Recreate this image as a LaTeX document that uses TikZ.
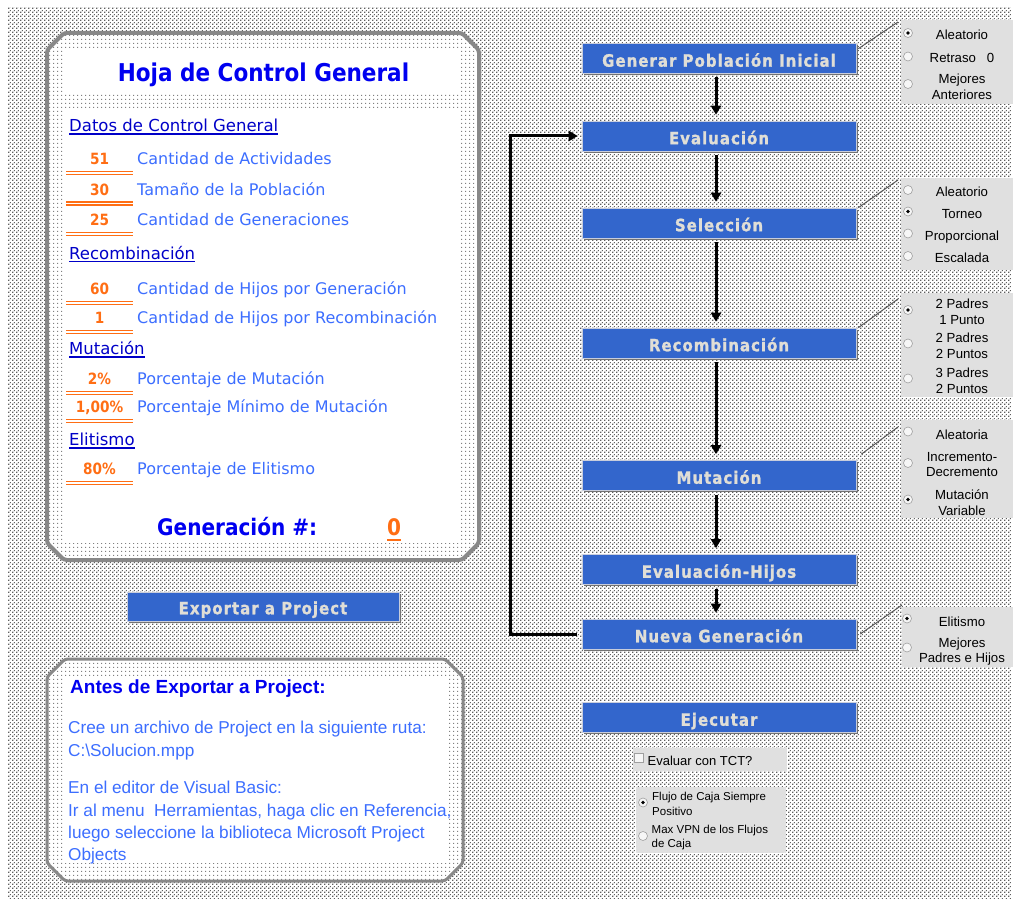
\documentclass[tikz,border=0pt]{standalone}
\usepackage{fontspec}
\setmainfont{Liberation Sans}
\newfontfamily\dvs{DejaVu Sans}
\newfontfamily\tah{DejaVu Sans}[FakeStretch=0.88]
\newfontfamily\tahbox{DejaVu Sans}[FakeStretch=0.88,LetterSpace=6,FakeBold=1.2]
\usetikzlibrary{arrows.meta,patterns,shadows}

\definecolor{boxblue}{RGB}{51,102,204}
\definecolor{boxedge}{RGB}{200,205,220}
\definecolor{boxtxt}{RGB}{224,222,214}
\definecolor{ttlblue}{RGB}{0,0,240}
\definecolor{hdrblue}{RGB}{0,0,200}
\definecolor{lblblue}{RGB}{60,110,255}
\definecolor{numorange}{RGB}{255,110,20}
\definecolor{framegray}{RGB}{136,136,136}
\definecolor{optgray}{RGB}{224,224,224}
\definecolor{dotgray}{RGB}{95,95,95}

% dense dither of the sheet background
\pgfdeclarepatternformonly{bgdots}{\pgfqpoint{0pt}{0pt}}{\pgfqpoint{4pt}{4pt}}{\pgfqpoint{4pt}{4pt}}{%
  \pgfpathrectangle{\pgfqpoint{0.3pt}{0.3pt}}{\pgfqpoint{1.4pt}{1.4pt}}%
  \pgfpathrectangle{\pgfqpoint{2.3pt}{2.3pt}}{\pgfqpoint{1.4pt}{1.4pt}}%
  \pgfusepath{fill}}
% sparse dots inside the framed panels
\pgfdeclarepatternformonly{paneldots}{\pgfqpoint{0pt}{0pt}}{\pgfqpoint{4pt}{4pt}}{\pgfqpoint{4pt}{4pt}}{%
  \pgfpathrectangle{\pgfqpoint{1.5pt}{1.5pt}}{\pgfqpoint{1.1pt}{1.1pt}}%
  \pgfusepath{fill}}

\begin{document}
\begin{tikzpicture}[x=1pt,y=-1pt,
  fbox/.style={rectangle, fill=boxblue, draw=boxedge, line width=0.6pt,
    minimum width=274pt, minimum height=30pt, inner sep=0pt, text=boxtxt,
    text height=16.5pt, text depth=0pt,
    font=\tahbox\bfseries\fontsize{17}{20}\selectfont,
    drop shadow={shadow xshift=1.6pt, shadow yshift=-1.6pt, fill=black!55, opacity=1}},
  arr/.style={line width=3pt, -{Triangle[width=10pt,length=9pt]}, shorten <=4pt, shorten >=6pt},
  conn/.style={draw=black!65, line width=1pt},
  optpanel/.style={rectangle, fill=optgray, draw=none, inner sep=0pt, anchor=north west},
  opt/.style={font=\fontsize{13.2}{15}\selectfont, anchor=base, inner sep=0pt, text=black},
  optsm/.style={font=\fontsize{11.5}{13}\selectfont, anchor=base west, inner sep=0pt, text=black},
  radio/.style={circle, minimum size=9pt, inner sep=0pt, fill=white!93!gray, draw=gray!75, line width=0.6pt},
  hdr/.style={font=\dvs\fontsize{16.5}{20}\selectfont, text=hdrblue, anchor=base west, inner sep=0pt},
  lbl/.style={font=\dvs\fontsize{16}{19}\selectfont, text=lblblue, anchor=base west, inner sep=0pt},
  num/.style={font=\tah\bfseries\fontsize{15.5}{18}\selectfont, text=numorange, anchor=base, inner sep=0pt},
  numline/.style={draw=numorange, line width=1.4pt},
  body/.style={font=\fontsize{17.2}{20}\selectfont, text=lblblue, anchor=base west, inner sep=0pt},
  panelframe/.style={draw=framegray, line width=4pt, rounded corners=3pt}
]
\useasboundingbox (0,0) rectangle (1013,901);
\fill[white] (0,0) rectangle (1013,901);
\fill[pattern=bgdots, pattern color=dotgray] (8,8) rectangle (1011,898);

% ---------- control sheet panel ----------
\fill[white] (64,33) -- (462,33) -- (479,50) -- (479,543) -- (462,560) -- (64,560) -- (47,543) -- (47,50) -- cycle;
\fill[pattern=paneldots, pattern color=gray] (64,33) -- (462,33) -- (479,50) -- (479,543) -- (462,560) -- (64,560) -- (47,543) -- (47,50) -- cycle;
\fill[white] (64,50) rectangle (461,92);
\fill[white] (64,109) rectangle (461,543);
\draw[panelframe] (64,33) -- (462,33) -- (479,50) -- (479,543) -- (462,560) -- (64,560) -- (47,543) -- (47,50) -- cycle;

\node[font=\tah\bfseries\fontsize{24.5}{28}\selectfont, text=ttlblue, anchor=base, inner sep=0pt] (title) at (263.5,82) {Hoja de Control General};

\node[hdr] (h1) at (69,132) {Datos de Control General};
\node[hdr] (h2) at (69,259.5) {Recombinación};
\node[hdr] (h3) at (69,355) {Mutación};
\node[hdr] (h4) at (69,446) {Elitismo};
\foreach \h in {h1,h2,h3,h4}
  \draw[hdrblue, line width=1.3pt] ([yshift=-2pt]\h.base west) -- ([yshift=-2pt]\h.base east);

\foreach \i/\v/\y/\t in {1/51/165/Cantidad de Actividades,
                         2/30/195.5/Tamaño de la Población,
                         3/25/226/Cantidad de Generaciones,
                         4/60/295/Cantidad de Hijos por Generación,
                         5/1/324/Cantidad de Hijos por Recombinación,
                         6/2\%/385/Porcentaje de Mutación,
                         7/{1,00\%}/413/Porcentaje Mínimo de Mutación,
                         8/80\%/475/Porcentaje de Elitismo}{
  \node[num] (n\i) at (99.5,\y) {\v};
  \node[lbl] (l\i) at (137,\y) {\t};
  \draw[numline] ([xshift=-33.5pt,yshift=-6.5pt]n\i.base) -- ([xshift=33.5pt,yshift=-6.5pt]n\i.base);
  \draw[numline] ([xshift=-33.5pt,yshift=-9.5pt]n\i.base) -- ([xshift=33.5pt,yshift=-9.5pt]n\i.base);
}

\node[font=\tah\bfseries\fontsize{22.8}{26}\selectfont, text=ttlblue, anchor=base west, inner sep=0pt] (gen) at (157,535) {Generación \#:};
\node[font=\tah\bfseries\fontsize{22.8}{26}\selectfont, text=numorange, anchor=base, inner sep=0pt] (genval) at (394,535) {0};
\draw[numorange, line width=2pt] ([xshift=-7pt,yshift=-5pt]genval.base) -- ([xshift=7pt,yshift=-5pt]genval.base);

% ---------- export button and notes ----------
\node[fbox, minimum width=272pt, minimum height=29pt, text height=15.5pt] (export) at (263,606.5) {Exportar a Project};

\fill[white] (65,659) -- (445,659) -- (463,677) -- (463,863) -- (445,881) -- (65,881) -- (47,863) -- (47,677) -- cycle;
\fill[pattern=paneldots, pattern color=gray] (65,659) -- (445,659) -- (463,677) -- (463,863) -- (445,881) -- (65,881) -- (47,863) -- (47,677) -- cycle;
\fill[white] (65,677) rectangle (448,863);
\draw[panelframe, line width=3pt] (65,659) -- (445,659) -- (463,677) -- (463,863) -- (445,881) -- (65,881) -- (47,863) -- (47,677) -- cycle;

\node[font=\bfseries\fontsize{19}{22}\selectfont, text=ttlblue, anchor=base west, inner sep=0pt] (ntitle) at (70,693) {Antes de Exportar a Project:};
\node[body] (b1) at (68,733) {Cree un archivo de Project en la siguiente ruta:};
\node[body] (b2) at (68,756) {C:\textbackslash Solucion.mpp};
\node[body] (b3) at (68,793) {En el editor de Visual Basic:};
\node[body] (b4) at (68,816) {Ir al menu\ \ Herramientas, haga clic en Referencia,};
\node[body] (b5) at (68,838) {luego seleccione la biblioteca Microsoft Project};
\node[body] (b6) at (68,860) {Objects};

% ---------- algorithm flow ----------
\node[fbox, text height=17.4pt] (s1) at (719,58) {Generar Población Inicial};
\node[fbox] (s2) at (719,136) {Evaluación};
\node[fbox] (s3) at (719,223) {Selección};
\node[fbox] (s4) at (719,343) {Recombinación};
\node[fbox] (s5) at (719,475.5) {Mutación};
\node[fbox] (s6) at (719,569.5) {Evaluación-Hijos};
\node[fbox] (s7) at (719,634) {Nueva Generación};
\node[fbox] (run) at (719,717.5) {Ejecutar};

\foreach \a/\b in {s1/s2,s2/s3,s3/s4,s4/s5,s5/s6,s6/s7}
  \draw[arr] ([xshift=-3pt]\a.south) -- ([xshift=-3pt]\b.north);
\draw[arr, shorten <=5pt, shorten >=4pt] (s7.west) -- ++(-71,0) |- (s2.west);

% ---------- option groups ----------
\node[optpanel, minimum width=112pt, minimum height=84pt] (p1) at (901,20) {};
\draw[conn] ([xshift=2pt,yshift=-6pt]s1.north east) -- ([xshift=-3pt,yshift=-2pt]p1.north west);
\node[radio] (r11) at (908,33) {}; \fill (r11.center) circle (1.8);
\node[radio] (r12) at (908,56.5) {};
\node[radio] (r13) at (908,84) {};
\node[opt] (t11) at (962,40) {Aleatorio};
\node[opt] (t12) at (962,63) {Retraso\ \ \ 0};
\node[opt] (t13) at (962,84) {Mejores};
\node[opt] (t14) at (962,100) {Anteriores};

\node[optpanel, minimum width=112pt, minimum height=92pt] (p2) at (901,178) {};
\draw[conn] ([xshift=2pt,yshift=0pt]s3.north east) -- ([xshift=-3pt,yshift=-2pt]p2.north west);
\node[radio] (r21) at (908,190) {};
\node[radio] (r22) at (908,211.5) {}; \fill (r22.center) circle (1.8);
\node[radio] (r23) at (908,233.5) {};
\node[radio] (r24) at (908,256) {};
\node[opt] (t21) at (962,197) {Aleatorio};
\node[opt] (t22) at (962,219) {Torneo};
\node[opt] (t23) at (962,241) {Proporcional};
\node[opt] (t24) at (962,263) {Escalada};

\node[optpanel, minimum width=112pt, minimum height=104pt] (p3) at (901,293) {};
\draw[conn] ([xshift=2pt,yshift=0pt]s4.north east) -- ([xshift=-3pt,yshift=-6pt]p3.north west);
\node[radio] (r31) at (908,310) {}; \fill (r31.center) circle (1.8);
\node[radio] (r32) at (908,343.5) {};
\node[radio] (r33) at (908,378.5) {};
\node[opt] (t31) at (962,309) {2 Padres};
\node[opt] (t32) at (962,325) {1 Punto};
\node[opt] (t33) at (962,343) {2 Padres};
\node[opt] (t34) at (962,359) {2 Puntos};
\node[opt] (t35) at (962,378) {3 Padres};
\node[opt] (t36) at (962,394) {2 Puntos};

\node[optpanel, minimum width=112pt, minimum height=98pt] (p4) at (901,420) {};
\draw[conn] ([xshift=5pt,yshift=6pt]s5.north east) -- ([xshift=-3pt,yshift=-7pt]p4.north west);
\node[radio] (r41) at (908,431.5) {};
\node[radio] (r42) at (908,463) {};
\node[radio] (r43) at (908,499.5) {}; \fill (r43.center) circle (1.8);
\node[opt] (t41) at (962,439) {Aleatoria};
\node[opt] (t42) at (962,462) {Incremento-};
\node[opt] (t43) at (962,477) {Decremento};
\node[opt] (t44) at (962,499) {Mutación};
\node[opt] (t45) at (962,515) {Variable};

\node[optpanel, minimum width=111pt, minimum height=60pt] (p5) at (902,607) {};
\draw[conn] ([xshift=4pt]s7.east) -- ([xshift=0pt,yshift=2pt]p5.north west);
\node[radio] (r51) at (907,618.5) {}; \fill (r51.center) circle (1.8);
\node[radio] (r52) at (907,647.5) {};
\node[opt] (t51) at (962,626) {Elitismo};
\node[opt] (t52) at (962,647) {Mejores};
\node[opt] (t53) at (962,662) {Padres e Hijos};

% ---------- run options ----------
\node[optpanel, minimum width=154pt, minimum height=23pt] (p6) at (633,748) {};
\node[rectangle, minimum size=9pt, inner sep=0pt, fill=white!93!gray, draw=gray!75, line width=0.6pt] (cb) at (638.5,757.5) {};
\node[optsm, font=\fontsize{13}{15}\selectfont] (t61) at (647.5,765) {Evaluar con TCT?};

\node[optpanel, minimum width=150pt, minimum height=66pt] (p7) at (636,787) {};
\node[radio] (r71) at (643,802.5) {}; \fill (r71.center) circle (1.8);
\node[radio] (r72) at (643,836) {};
\node[optsm] (t71) at (652,800) {Flujo de Caja Siempre};
\node[optsm] (t72) at (652,815) {Positivo};
\node[optsm] (t73) at (651.5,833.3) {Max VPN de los Flujos};
\node[optsm] (t74) at (651.5,847.7) {de Caja};
\end{tikzpicture}
\end{document}
